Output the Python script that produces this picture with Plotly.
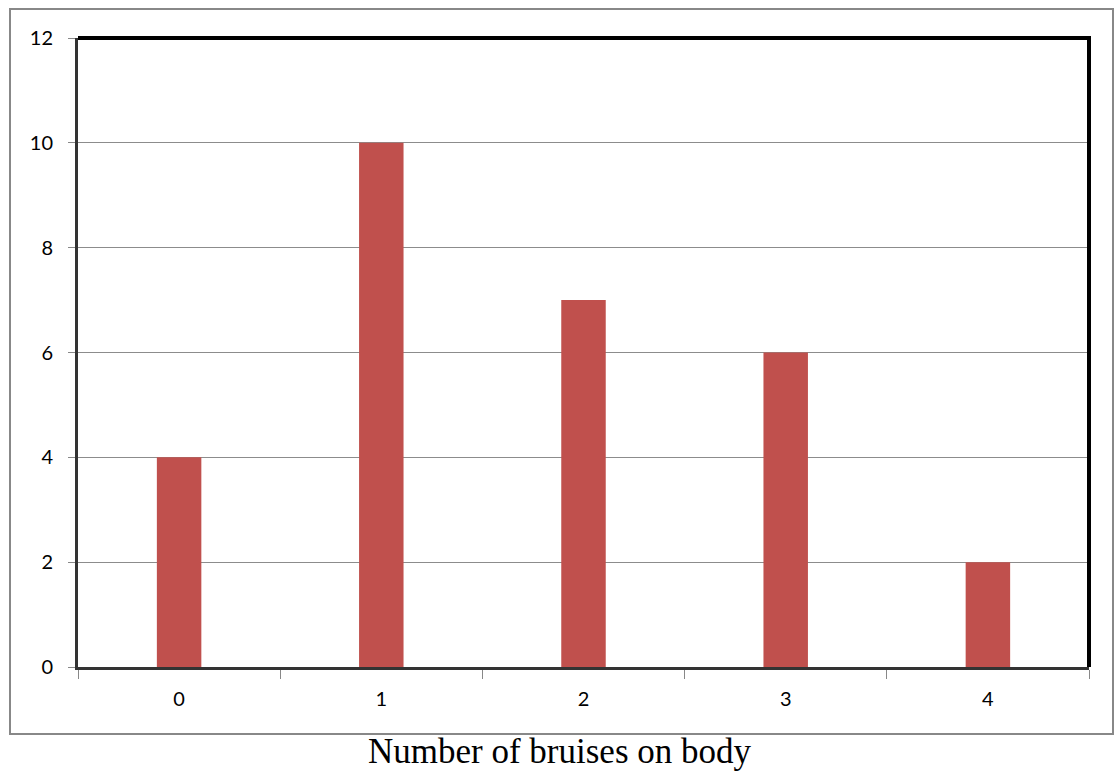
import plotly.graph_objects as go

categories = ["0", "1", "2", "3", "4"]
counts = [4, 10, 7, 6, 2]
y_ticks = [0, 2, 4, 6, 8, 10, 12]
x_title = "Number of bruises on body"

W, H = 1115, 775
L, R, T, B = 78, 26, 38, 108
pw, ph = W - L - R, H - T - B

def px_to_paper_x(px):
    return (px - L) / pw

def px_to_paper_y(py):
    return (H - B - py) / ph

fig = go.Figure(go.Bar(x=categories, y=counts, marker=dict(color="#C0504D", line=dict(width=0)),
                       width=0.22))

fig.update_layout(
    width=W, height=H,
    margin=dict(l=L, r=R, t=T, b=B, autoexpand=False),
    paper_bgcolor="white", plot_bgcolor="white",
    showlegend=False,
    font=dict(family="Lato, Open Sans, sans-serif", size=20, color="black"),
)
fig.update_xaxes(
    type="category", tickson="boundaries", showgrid=False,
    showline=True, linecolor="#333333", linewidth=3,
    ticks="outside", ticklen=9, tickcolor="#888888", tickwidth=1,
    ticklabelstandoff=12, tickfont=dict(size=20),
    range=[-0.5, 4.5],
)
fig.update_yaxes(
    range=[0, 12], tickvals=y_ticks, showgrid=True, gridcolor="#8c8c8c", gridwidth=1,
    showline=True, linecolor="#333333", linewidth=3,
    ticks="outside", ticklen=7, tickcolor="#888888", tickwidth=1,
    ticklabelstandoff=11, tickfont=dict(size=20), zeroline=False,
)

shapes = [
    # outer chart border
    dict(type="rect", xref="paper", yref="paper",
         x0=px_to_paper_x(10), x1=px_to_paper_x(1113),
         y0=px_to_paper_y(734), y1=px_to_paper_y(9),
         line=dict(color="#888888", width=2), fillcolor="rgba(0,0,0,0)", layer="below"),
    # thick top and right border of plot area
    dict(type="line", xref="paper", yref="paper", x0=0, x1=1.0 + 2 / pw, y0=1, y1=1,
         line=dict(color="black", width=4)),
    dict(type="line", xref="paper", yref="paper", x0=1, x1=1, y0=0, y1=1 + 2 / ph,
         line=dict(color="black", width=4)),
]
fig.update_layout(shapes=shapes)

fig.add_annotation(
    text=x_title, xref="paper", yref="paper",
    x=px_to_paper_x(560), y=px_to_paper_y(751),
    xanchor="center", yanchor="middle", showarrow=False,
    font=dict(family="Liberation Serif, Times New Roman, serif", size=35, color="black"),
)

fig.write_html("out.html", config={"displayModeBar": False},
               post_script="document.body.style.margin='0';document.body.style.overflow='hidden';")
